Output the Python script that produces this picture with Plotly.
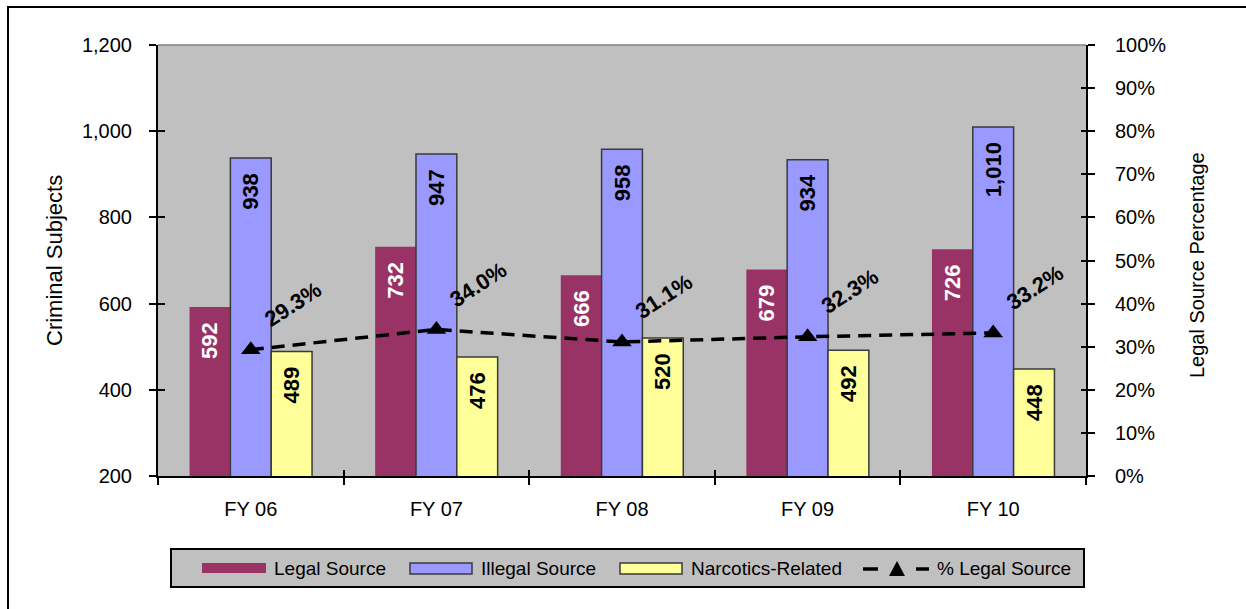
import plotly.graph_objects as go

# ---- data ----
years = ["FY 06", "FY 07", "FY 08", "FY 09", "FY 10"]
legal_source = [592, 732, 666, 679, 726]
illegal_source = [938, 947, 958, 934, 1010]
narcotics_related = [489, 476, 520, 492, 448]
pct_legal_source = [29.3, 34.0, 31.1, 32.3, 33.2]

left_ticks = [200, 400, 600, 800, 1000, 1200]
right_ticks = [0, 10, 20, 30, 40, 50, 60, 70, 80, 90, 100]

# ---- styling ----
FONT = "Liberation Sans, Arial, sans-serif"
C_LEGAL = "#993366"
C_ILLEGAL = "#9999FF"
C_NARC = "#FFFF99"
C_EDGE = "#3a3a3a"
C_PLOT = "#C0C0C0"

W, H = 1246, 609
ML, MR, MT, MB = 158, 160, 45, 133
PX0, PY0 = ML, H - MB  # plot-area origin (bottom-left) in page pixels

PAD = "\u00a0\u00a0"  # keeps the rotated value labels off the bar tops


def bar_label(v):
    return f"{v:,}" + PAD


fig = go.Figure()

for name, vals, color, edge, txtcol in [
    ("Legal Source", legal_source, C_LEGAL, 0, "white"),
    ("Illegal Source", illegal_source, C_ILLEGAL, 1.5, "black"),
    ("Narcotics-Related", narcotics_related, C_NARC, 1.5, "black"),
]:
    fig.add_trace(go.Bar(
        name=name, x=years, y=vals,
        marker=dict(color=color, line=dict(color=C_EDGE, width=edge)),
        text=[bar_label(v) for v in vals],
        textposition="inside", insidetextanchor="end", textangle=-90,
        insidetextfont=dict(family=FONT, size=22, color=txtcol, weight="bold"),
        constraintext="none",
        showlegend=False,
    ))

fig.add_trace(go.Scatter(
    name="% Legal Source", x=years, y=pct_legal_source, yaxis="y2",
    mode="lines+markers",
    line=dict(color="black", width=3.5, dash="13px,8px"),
    marker=dict(symbol="triangle-up", size=17, color="black"),
    showlegend=False,
))

# empty traces carrying the inner halves of the cross tick marks
fig.add_trace(go.Scatter(x=[], y=[], xaxis="x2", yaxis="y3", showlegend=False, hoverinfo="skip"))
fig.add_trace(go.Scatter(x=[], y=[], xaxis="x2", yaxis="y4", showlegend=False, hoverinfo="skip"))

# rotated percentage labels above the line markers
for yr, p in zip(years, pct_legal_source):
    fig.add_annotation(
        x=yr, y=p, xref="x", yref="y2", text=f"{p:.1f}%", showarrow=False,
        textangle=-33, xshift=42, yshift=45,
        font=dict(family=FONT, size=22, color="black", weight="bold"),
    )

tickfont = dict(family=FONT, size=20, color="black")

fig.update_layout(
    width=W, height=H,
    margin=dict(l=ML, r=MR, t=MT, b=MB, pad=0),
    paper_bgcolor="white", plot_bgcolor=C_PLOT,
    barmode="group", bargap=0.34, bargroupgap=0,
    showlegend=False,
    font=dict(family=FONT, color="black"),
    xaxis=dict(
        type="category", categoryorder="array", categoryarray=years,
        tickson="boundaries", ticks="outside", ticklen=7, tickwidth=2, tickcolor="black",
        showline=True, linecolor="black", linewidth=2,
        showgrid=False, tickfont=tickfont, ticklabelstandoff=14,
    ),
    xaxis2=dict(
        overlaying="x", anchor="y", type="linear", range=[-0.5, 4.5],
        tickvals=[-0.5, 0.5, 1.5, 2.5, 3.5, 4.5], ticks="inside", ticklen=6,
        tickwidth=2, tickcolor="black", showticklabels=False,
        showgrid=False, zeroline=False, showline=False,
    ),
    yaxis=dict(
        range=[200, 1200], tickvals=left_ticks, ticktext=[f"{t:,}" for t in left_ticks],
        ticks="outside", ticklen=7, tickwidth=2, tickcolor="black",
        showline=True, linecolor="black", linewidth=2,
        showgrid=False, zeroline=False, tickfont=tickfont, ticklabelstandoff=13,
    ),
    yaxis2=dict(
        overlaying="y", side="right", anchor="x", range=[0, 100],
        tickvals=right_ticks, ticktext=[f"{t}%" for t in right_ticks],
        ticks="outside", ticklen=7, tickwidth=2, tickcolor="black",
        showline=True, linecolor="black", linewidth=2,
        showgrid=False, zeroline=False, tickfont=tickfont, ticklabelstandoff=16,
    ),
    yaxis3=dict(
        overlaying="y", side="left", anchor="x2", range=[200, 1200], tickvals=left_ticks,
        ticks="inside", ticklen=7, tickwidth=2, tickcolor="black",
        showticklabels=False, showgrid=False, zeroline=False, showline=False,
    ),
    yaxis4=dict(
        overlaying="y", side="right", anchor="x2", range=[0, 100], tickvals=right_ticks,
        ticks="inside", ticklen=5, tickwidth=2, tickcolor="black",
        showticklabels=False, showgrid=False, zeroline=False, showline=False,
    ),
)


def px_shape(kind, x0, y0, x1, y1, **kw):
    """Shape given in page pixels (top-left origin)."""
    fig.add_shape(
        type=kind, xref="paper", yref="paper",
        xsizemode="pixel", ysizemode="pixel", xanchor=0, yanchor=0,
        x0=x0 - PX0, x1=x1 - PX0, y0=PY0 - y0, y1=PY0 - y1, **kw,
    )


def px_path(points, **kw):
    d = "M" + "L".join(f"{x - PX0},{PY0 - y}" for x, y in points) + "Z"
    fig.add_shape(
        type="path", xref="paper", yref="paper",
        xsizemode="pixel", ysizemode="pixel", xanchor=0, yanchor=0, path=d, **kw,
    )


def px_text(x, y, text, size, xanchor="left", angle=0):
    fig.add_annotation(
        xref="paper", yref="paper", x=0, y=0, xshift=x - PX0, yshift=PY0 - y,
        text=text, showarrow=False, xanchor=xanchor, yanchor="middle", textangle=angle,
        font=dict(family=FONT, size=size, color="black"),
    )


# grey top edge of the plot area
px_shape("line", PX0, MT, W - MR, MT, line=dict(color="#808080", width=1.5))

# chart frame (left and top edges)
px_shape("line", 8, 7, 8, H + 2, line=dict(color="black", width=2))
px_shape("line", 7, 7, W + 2, 7, line=dict(color="black", width=2))

# axis titles
px_text(54, 261, "Criminal Subjects", 22, xanchor="center", angle=-90)
px_text(1197, 265, "Legal Source Percentage", 20, xanchor="center", angle=-90)

# legend box
px_shape("rect", 171, 549, 1084, 587, fillcolor=C_PLOT, line=dict(color="black", width=2))
px_shape("rect", 202, 563, 266, 573, fillcolor=C_LEGAL, line=dict(width=0))
px_text(272, 568, "Legal Source", 19)
px_shape("rect", 410, 563, 472, 574, fillcolor=C_ILLEGAL, line=dict(color=C_EDGE, width=1.5))
px_text(479, 568, "Illegal Source", 19)
px_shape("rect", 620, 563, 682, 574, fillcolor=C_NARC, line=dict(color=C_EDGE, width=1.5))
px_text(689, 568, "Narcotics-Related", 19)
px_shape("line", 863, 569, 878, 569, line=dict(color="black", width=3.5))
px_shape("line", 916, 569, 929, 569, line=dict(color="black", width=3.5))
px_path([(889, 576), (905, 576), (897, 561)], fillcolor="black", line=dict(width=0))
px_text(935, 568, "% Legal Source", 19)

fig.write_html("out.html")
